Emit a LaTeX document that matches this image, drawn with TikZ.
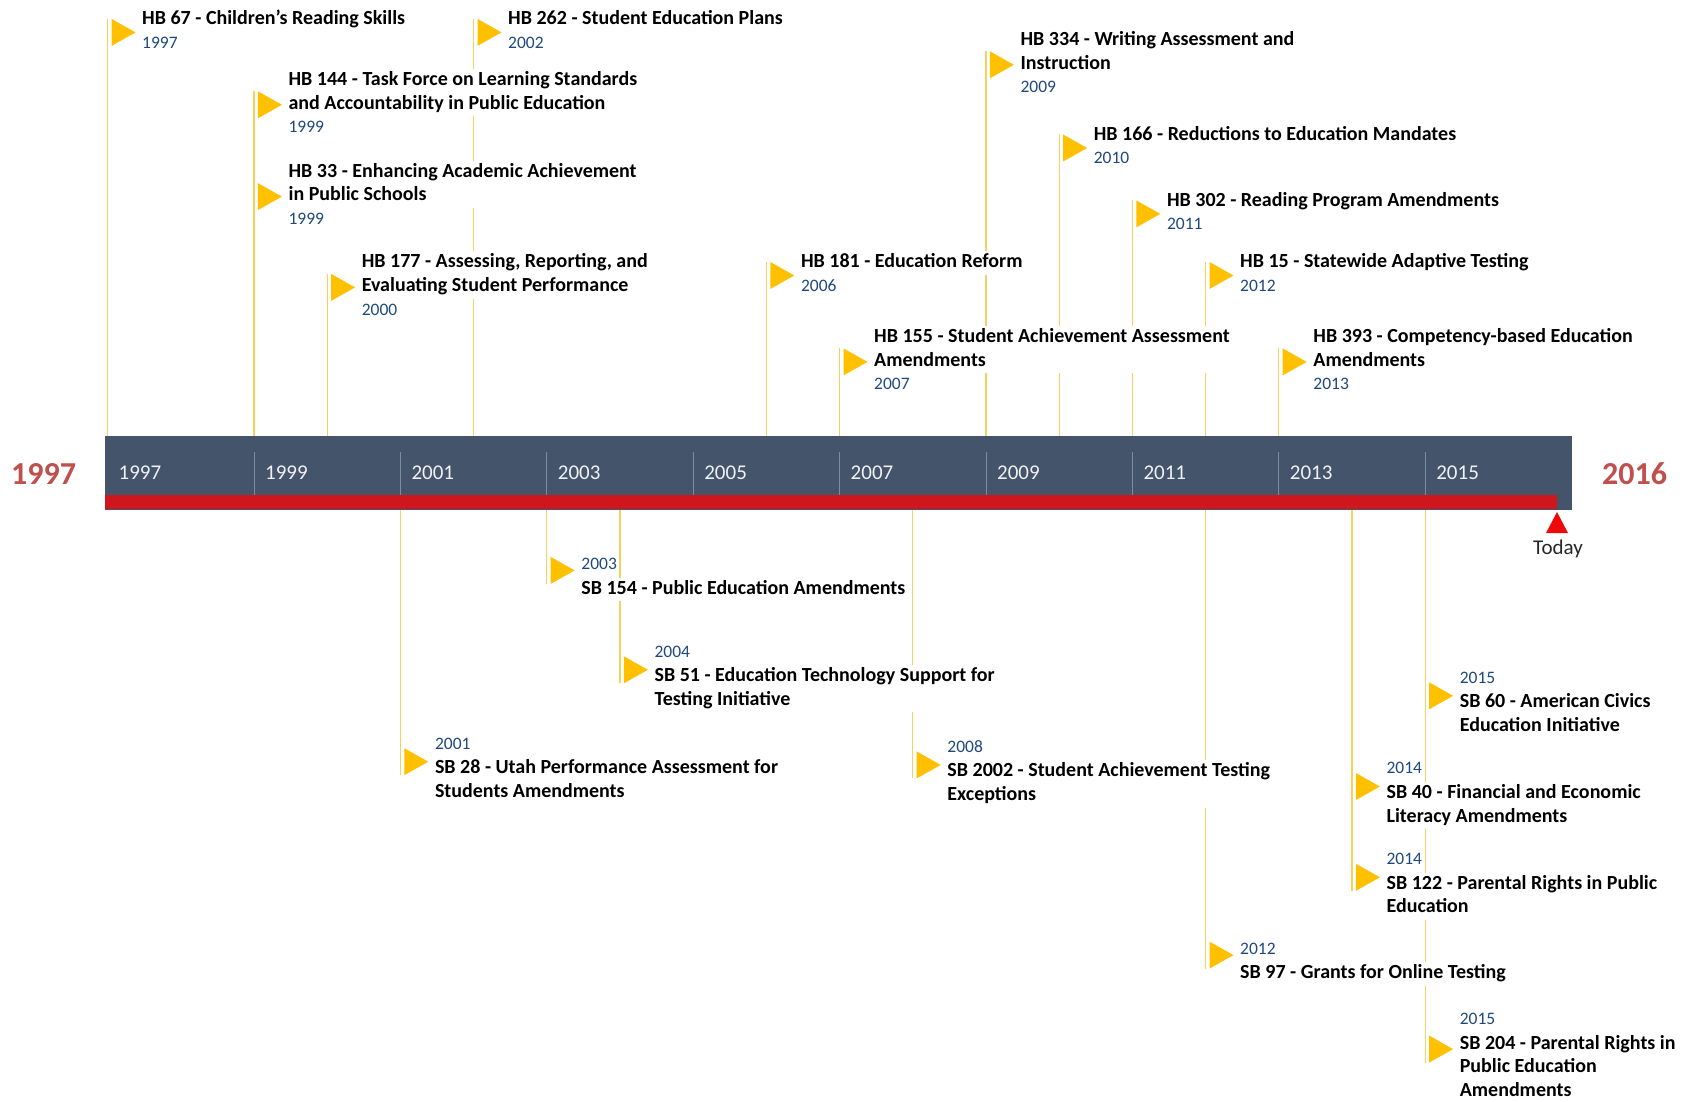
\documentclass[tikz,border=0pt]{standalone}
\usepackage{fontspec}
\setmainfont{Carlito}
\usetikzlibrary{calc}
\definecolor{slate}{RGB}{68,84,106}
\definecolor{barred}{RGB}{206,22,28}
\definecolor{todayred}{RGB}{236,10,10}
\definecolor{endred}{RGB}{192,80,77}
\definecolor{gold}{RGB}{255,192,0}
\definecolor{stemcol}{RGB}{247,208,96}
\definecolor{yearblue}{RGB}{31,73,125}
\definecolor{sepcol}{RGB}{125,140,162}
\newcommand\tfont{\fontsize{20}{23.7}\selectfont\bfseries}
\newcommand\yfont{\fontsize{17.5}{23.7}\selectfont\color{yearblue}}
\pgfdeclarelayer{bg}
\pgfsetlayers{bg,main}
% above-bar event: name, year, flag y, number of title lines, year label, title
\newcommand\evup[6]{%
  \pgfmathsetmacro\ex{107.5+(#2-1997)*73.2}%
  \pgfmathsetmacro\ty{#3-12.35}%
  \pgfmathsetmacro\yy{#3-2.2+#4*11.85+1.5}%
  \coordinate (#1-top) at (\ex,#3-13.5);
  \begin{pgfonlayer}{bg}\draw[stemline] (#1-top |- bar.north) -- (#1-top);\end{pgfonlayer}
  \node[ttl] (#1-t) at (\ex+33.5,\ty) {\begin{tabular}{@{}l@{}}#6\end{tabular}};
  \node[yr] (#1-y) at (\ex+33.5,\yy) {\begin{tabular}{@{}l@{}}#5\end{tabular}};
  \fill[gold] (\ex+4,#3-13.5) -- (\ex+28,#3) -- (\ex+4,#3+13.5) -- cycle;
}
% below-bar event
\newcommand\evdown[6]{%
  \pgfmathsetmacro\ex{107.5+(#2-1997)*73.2}%
  \pgfmathsetmacro\ty{#3+18.95}%
  \pgfmathsetmacro\yy{#3+6.3-#4*11.85}%
  \coordinate (#1-bot) at (\ex,#3+13.5);
  \begin{pgfonlayer}{bg}\draw[stemline] (#1-bot |- bar.south) -- (#1-bot);\end{pgfonlayer}
  \node[ttl] (#1-t) at (\ex+33.5,\ty) {\begin{tabular}{@{}l@{}}#6\end{tabular}};
  \node[yr] (#1-y) at (\ex+33.5,\yy) {\begin{tabular}{@{}l@{}}#5\end{tabular}};
  \fill[gold] (\ex+4,#3-13.5) -- (\ex+28,#3) -- (\ex+4,#3+13.5) -- cycle;
}
\begin{document}
\begin{tikzpicture}[x=1pt,y=-1pt,
  stemline/.style={draw=stemcol, line width=1.2pt},
  ttl/.style={anchor=west, fill=white, inner xsep=1pt, inner ysep=0pt, font=\tfont},
  yr/.style={anchor=west, fill=white, inner xsep=1pt, inner ysep=0pt, font=\yfont},
  barlabel/.style={anchor=west, inner sep=0pt, text=white!92!slate, font=\fontsize{21}{25}\selectfont},
  endlabel/.style={anchor=west, inner sep=0pt, text=endred, font=\fontsize{32}{38}\selectfont\bfseries},
  sepline/.style={draw=sepcol, line width=0.8pt}]
\begin{pgfonlayer}{bg}
\fill[white] (0,0) rectangle (1694,1102);
\end{pgfonlayer}
\useasboundingbox (0,0) rectangle (1694,1102);
% timeline bar
\node[fill=slate, inner sep=0pt, minimum width=1467pt, minimum height=74pt, anchor=north west] (bar) at (105,436) {};
\node[fill=barred, inner sep=0pt, minimum width=1452pt, minimum height=14pt, anchor=north west] (redbar) at (105,495) {};
\foreach \y in {1999,2001,...,2015}{
  \pgfmathsetmacro\sx{107.5+(\y-1997)*73.2}
  \draw[sepline] (\sx,452) -- (\sx,494.5);
}
\foreach \y in {1997,1999,...,2015}{
  \pgfmathsetmacro\sx{118.5+(\y-1997)*73.2}
  \node[barlabel] (bl\y) at (\sx,473) {\y};
}
\node[endlabel] (startyear) at (11,474) {1997};
\node[endlabel] (endyear) at (1602,474) {2016};
% today marker
\fill[todayred] (1557,512) -- (1568,533) -- (1546,533) -- cycle;
\node[anchor=base, inner sep=0pt, text=black!85, font=\fontsize{21}{25}\selectfont] (today) at (1558,554) {Today};
% events above
\evup{hba}{1997}{32.4}{1}{1997}{HB 67 - Children's Reading Skills}
\evup{hbb}{2002}{32.4}{1}{2002}{HB 262 - Student Education Plans}
\evup{hbc}{1999}{104.8}{2}{1999}{HB 144 - Task Force on Learning Standards\\and Accountability in Public Education}
\evup{hbd}{1999}{196.6}{2}{1999}{HB 33 - Enhancing Academic Achievement\\in Public Schools}
\evup{hbe}{2000}{287.4}{2}{2000}{HB 177 - Assessing, Reporting, and\\Evaluating Student Performance}
\evup{hbf}{2006}{275.5}{1}{2006}{HB 181 - Education Reform}
\evup{hbg}{2007}{361.9}{2}{2007}{HB 155 - Student Achievement Assessment\\Amendments}
\evup{hbh}{2009}{64.8}{2}{2009}{HB 334 - Writing Assessment and\\Instruction}
\evup{hbi}{2010}{148}{1}{2010}{HB 166 - Reductions to Education Mandates}
\evup{hbj}{2011}{213.9}{1}{2011}{HB 302 - Reading Program Amendments}
\evup{hbk}{2012}{275.5}{1}{2012}{HB 15 - Statewide Adaptive Testing}
\evup{hbl}{2013}{361.9}{2}{2013}{HB 393 - Competency-based Education\\Amendments}
% events below
\evdown{sba}{2001}{761.7}{2}{2001}{SB 28 - Utah Performance Assessment for\\Students Amendments}
\evdown{sbb}{2003}{570.4}{1}{2003}{SB 154 - Public Education Amendments}
\evdown{sbc}{2004}{669.8}{2}{2004}{SB 51 - Education Technology Support for\\Testing Initiative}
\evdown{sbd}{2008}{764.9}{2}{2008}{SB 2002 - Student Achievement Testing\\Exceptions}
\evdown{sbe}{2012}{955.1}{1}{2012}{SB 97 - Grants for Online Testing}
\evdown{sbf}{2014}{786.5}{2}{2014}{SB 40 - Financial and Economic\\Literacy Amendments}
\evdown{sbg}{2014}{877.3}{2}{2014}{SB 122 - Parental Rights in Public\\Education}
\evdown{sbh}{2015}{695.8}{2}{2015}{SB 60 - American Civics\\Education Initiative}
\evdown{sbi}{2015}{1049.1}{3}{2015}{SB 204 - Parental Rights in\\Public Education\\Amendments}
\end{tikzpicture}
\end{document}
